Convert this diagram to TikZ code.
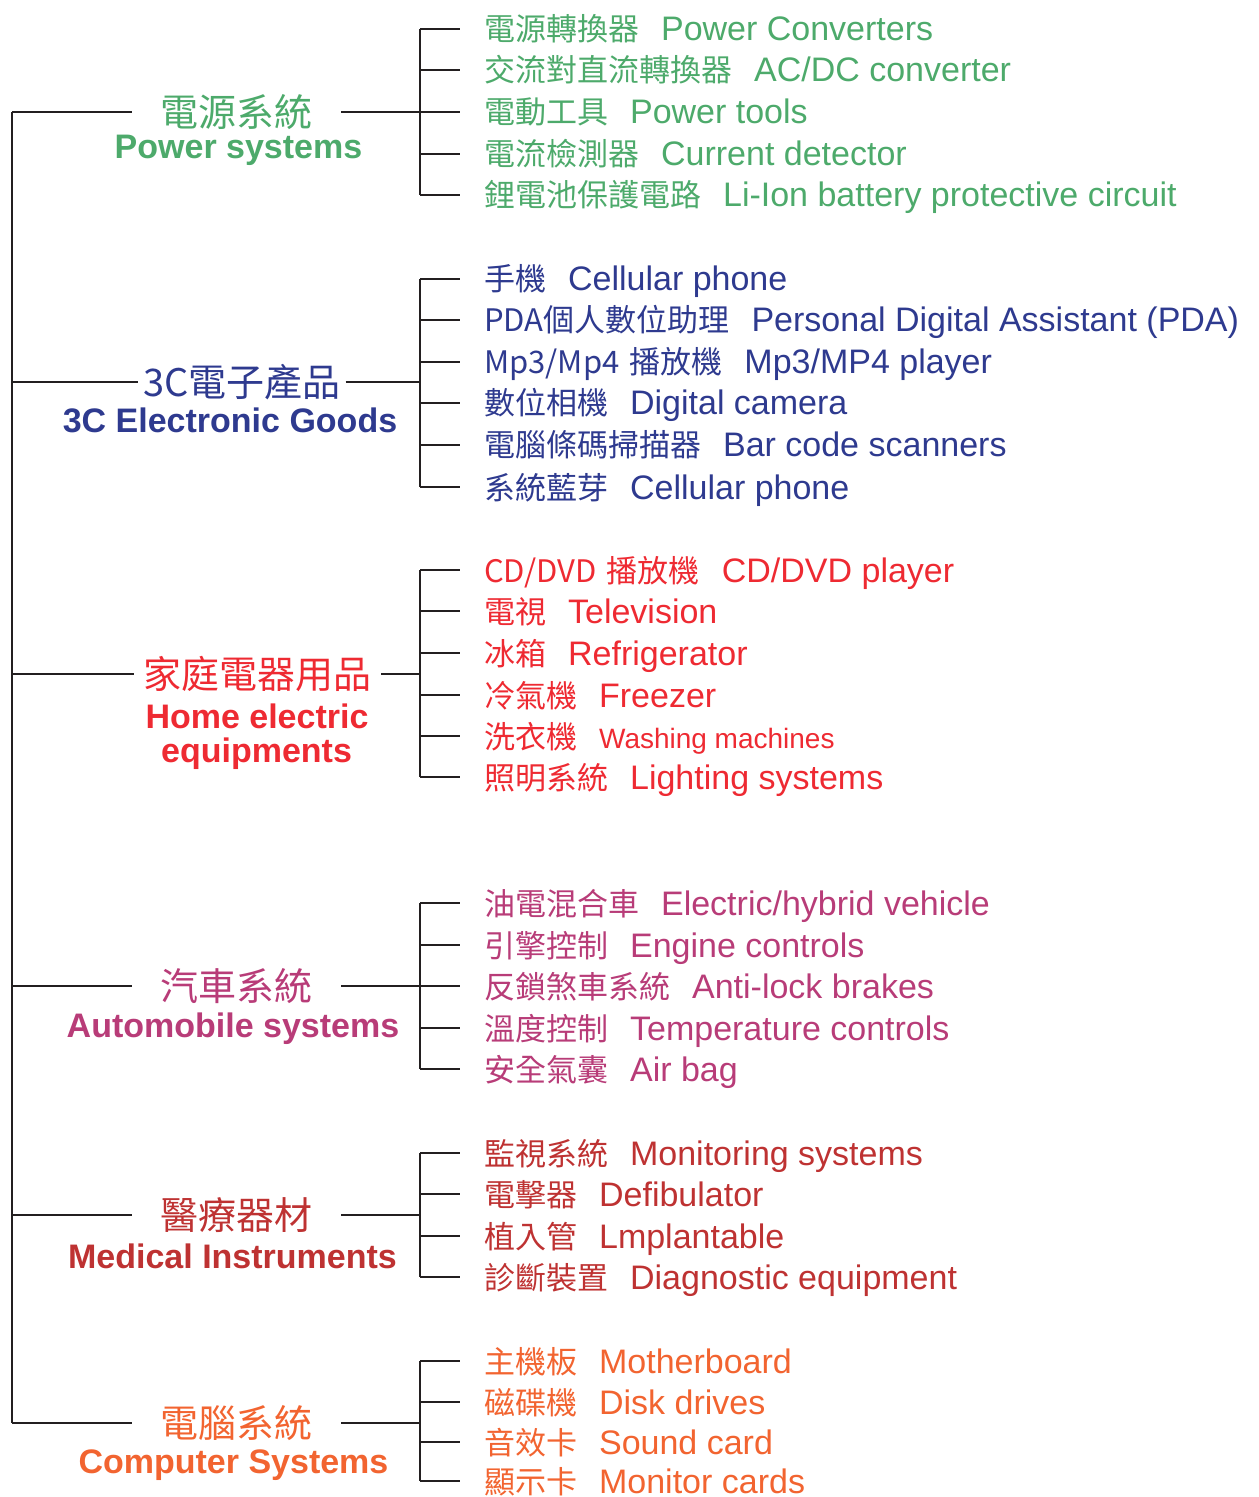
\documentclass[tikz,border=0pt]{standalone}
\usepackage{fontspec}
\setmainfont{Liberation Sans}
\newfontfamily\cjk{Noto Sans CJK TC}
\definecolor{cPower}{HTML}{4DAA6B}
\definecolor{cGoods}{HTML}{2E3A8F}
\definecolor{cHome}{HTML}{EE2A32}
\definecolor{cAuto}{HTML}{B83C78}
\definecolor{cMed}{HTML}{BE3232}
\definecolor{cComp}{HTML}{F26430}
\definecolor{cLine}{HTML}{231F20}
\newcommand{\zh}[1]{{\cjk\fontsize{15.5}{19}\selectfont #1}}
\tikzset{
	leaf/.style={anchor=west, inner xsep=11.5pt, inner ysep=0pt, text height=12.5pt, text depth=0.5pt, font=\fontsize{17}{20}\selectfont},
	grp/.style={inner sep=0pt, font=\cjk\fontsize{19}{22}\selectfont},
	grpen/.style={anchor=base, inner sep=0pt, font=\bfseries\fontsize{17}{20}\selectfont},
}
\begin{document}
\begin{tikzpicture}[x=0.5pt, y=-0.5pt, line width=1.1pt, draw=cLine, line join=miter]
	\def\xt{12} \def\xb{420} \def\xl{460} % trunk, brackets, leaves
	\useasboundingbox (0,0) rectangle (1258,1497);
	%\draw[gray!30] (0,0) grid[step=100] (1258,1497);
	% 電源系統
	\coordinate (tp) at (\xt,112); \coordinate (bp) at (\xb,112);
	\node[grp, minimum width=103.5pt, text=cPower] (gp) at (236.5,112) {電源系統};
	\node[grpen, text=cPower] (ep) at (238.5,159) {Power systems};
	\draw (tp) -- (gp.west) (gp.east) -- (bp);
	\draw (\xb,29) -- (\xb,195);
	\foreach \y/\n/\z/\e in {29/a/電源轉換器/Power Converters, 70/b/交流對直流轉換器/{AC/DC converter}, 112/c/電動工具/Power tools, 154/d/電流檢測器/Current detector, 195/e/鋰電池保護電路/Li-Ion battery protective circuit}{
		\node[leaf, text=cPower] (p\n) at (\xl,\y) {\zh{\z}\hspace{11pt}\e};
		\draw (\xb,\y) -- (p\n.west);
	}
	% 3C電子產品
	\coordinate (tg) at (\xt,382); \coordinate (bg) at (\xb,382);
	\node[grp, minimum width=102.5pt, text=cGoods] (gg) at (242,382) {3C電子產品};
	\node[grpen, text=cGoods] (eg) at (230,432) {3C Electronic Goods};
	\draw (tg) -- (gg.west) (gg.east) -- (bg);
	\draw (\xb,279) -- (\xb,487);
	\foreach \y/\n/\z/\e in {279/a/手機/Cellular phone, 320/b/PDA個人數位助理/Personal Digital Assistant (PDA), 362/c/{Mp3/Mp4\hspace{5pt}播放機}/{Mp3/MP4 player}, 403/d/數位相機/Digital camera, 445/e/電腦條碼掃描器/Bar code scanners, 487/f/系統藍芽/Cellular phone}{
		\node[leaf, text=cGoods] (g\n) at (\xl,\y) {\zh{\z}\hspace{11pt}\e};
		\draw (\xb,\y) -- (g\n.west);
	}
	% 家庭電器用品
	\coordinate (th) at (\xt,674); \coordinate (bh) at (\xb,674);
	\node[grp, minimum width=122.5pt, text=cHome] (gh) at (257.5,674) {家庭電器用品};
	\node[grpen, text=cHome] (eh) at (257,728) {Home electric};
	\node[grpen, text=cHome] (eh2) at (256.5,762) {equipments};
	\draw (th) -- (gh.west) (gh.east) -- (bh);
	\draw (\xb,570) -- (\xb,777);
	\foreach \y/\n/\z/\e in {570/a/{CD/DVD\hspace{5pt}播放機}/{CD/DVD player}, 611/b/電視/Television, 653/c/冰箱/Refrigerator, 695/d/冷氣機/Freezer, 736/e/洗衣機/{\fontsize{14}{17}\selectfont Washing machines}, 777/f/照明系統/Lighting systems}{
		\node[leaf, text=cHome] (h\n) at (\xl,\y) {\zh{\z}\hspace{11pt}\e};
		\draw (\xb,\y) -- (h\n.west);
	}
	% 汽車系統
	\coordinate (ta) at (\xt,986); \coordinate (ba) at (\xb,986);
	\node[grp, minimum width=103.5pt, text=cAuto] (ga) at (236.5,986) {汽車系統};
	\node[grpen, text=cAuto] (ea) at (233,1037) {Automobile systems};
	\draw (ta) -- (ga.west) (ga.east) -- (ba);
	\draw (\xb,903) -- (\xb,1069);
	\foreach \y/\n/\z/\e in {903/a/油電混合車/{Electric/hybrid vehicle}, 945/b/引擎控制/Engine controls, 986/c/反鎖煞車系統/Anti-lock brakes, 1028/d/溫度控制/Temperature controls, 1069/e/安全氣囊/Air bag}{
		\node[leaf, text=cAuto] (a\n) at (\xl,\y) {\zh{\z}\hspace{11pt}\e};
		\draw (\xb,\y) -- (a\n.west);
	}
	% 醫療器材
	\coordinate (tm) at (\xt,1215); \coordinate (bm) at (\xb,1215);
	\node[grp, minimum width=103.5pt, text=cMed] (gm) at (236.5,1215) {醫療器材};
	\node[grpen, text=cMed] (em) at (232.5,1268) {Medical Instruments};
	\draw (tm) -- (gm.west) (gm.east) -- (bm);
	\draw (\xb,1153) -- (\xb,1277);
	\foreach \y/\n/\z/\e in {1153/a/監視系統/Monitoring systems, 1194/b/電擊器/Defibulator, 1236/c/植入管/Lmplantable, 1277/d/診斷裝置/Diagnostic equipment}{
		\node[leaf, text=cMed] (m\n) at (\xl,\y) {\zh{\z}\hspace{11pt}\e};
		\draw (\xb,\y) -- (m\n.west);
	}
	% 電腦系統
	\coordinate (tc) at (\xt,1423); \coordinate (bc) at (\xb,1423);
	\node[grp, minimum width=103.5pt, text=cComp] (gc) at (236.5,1423) {電腦系統};
	\node[grpen, text=cComp] (ec) at (233.5,1473) {Computer Systems};
	\draw (tc) -- (gc.west) (gc.east) -- (bc);
	\draw (\xb,1361) -- (\xb,1481);
	\foreach \y/\n/\z/\e in {1361/a/主機板/Motherboard, 1402/b/磁碟機/Disk drives, 1442/c/音效卡/Sound card, 1481/d/顯示卡/Monitor cards}{
		\node[leaf, text=cComp] (c\n) at (\xl,\y) {\zh{\z}\hspace{11pt}\e};
		\draw (\xb,\y) -- (c\n.west);
	}
	% trunk
	\draw (tp) -- (tc);
\end{tikzpicture}
\end{document}
